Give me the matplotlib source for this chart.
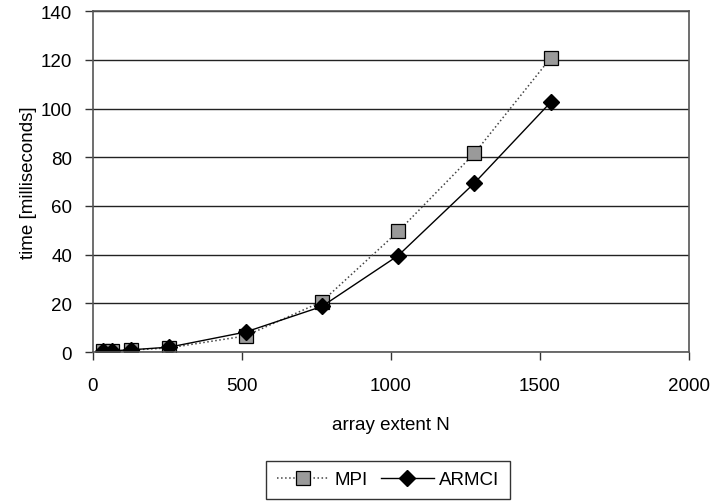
import matplotlib
matplotlib.use("Agg")
import matplotlib.pyplot as plt

# array extents and timings (ms)
N = [32, 64, 128, 256, 512, 768, 1024, 1280, 1536]
MPI = [0.3, 0.4, 0.8, 1.7, 6.6, 20.7, 49.5, 81.6, 120.8]
ARMCI = [0.3, 0.5, 0.9, 2.0, 8.2, 18.7, 39.6, 69.4, 102.6]

plt.rcParams['font.family'] = ['Liberation Sans', 'DejaVu Sans']
plt.rcParams['font.size'] = 13.5

fig = plt.figure(figsize=(7.12, 5.02), dpi=100)
ax = fig.add_axes([0.1306, 0.2968, 0.8371, 0.679])

ax.plot(N, MPI, color="#444444", linestyle=":", linewidth=1.1,
        marker="s", markersize=9.5, markerfacecolor="#9a9a9a",
        markeredgecolor="black", markeredgewidth=0.9, label="MPI")
ax.plot(N, ARMCI, color="black", linestyle="-", linewidth=1.0,
        marker="D", markersize=8.5, markerfacecolor="black",
        markeredgecolor="black", label="ARMCI")

ax.set_xlim(0, 2000)
ax.set_ylim(0, 140)
ax.set_xticks([0, 500, 1000, 1500, 2000])
ax.set_yticks(range(0, 141, 20))
ax.yaxis.grid(True, color="#222222", linewidth=1.0)
ax.set_axisbelow(True)
for s in ax.spines.values():
    s.set_color("#555555")
    s.set_linewidth(1.2)
ax.tick_params(direction="out", length=6, width=1.0, color="#333333")
ax.tick_params(axis="x", pad=12)
ax.tick_params(axis="y", pad=9)

ax.set_xlabel("array extent N", labelpad=16)
ax.set_ylabel("time [milliseconds]", labelpad=3)

leg = fig.legend(loc="center", bbox_to_anchor=(0.545, 0.042), ncol=2,
                 frameon=True, fancybox=False, edgecolor="black",
                 handlelength=2.8, handletextpad=0.3, columnspacing=0.7,
                 borderpad=0.55)
leg.get_frame().set_linewidth(1.0)

fig.savefig("out.png", dpi=100)
